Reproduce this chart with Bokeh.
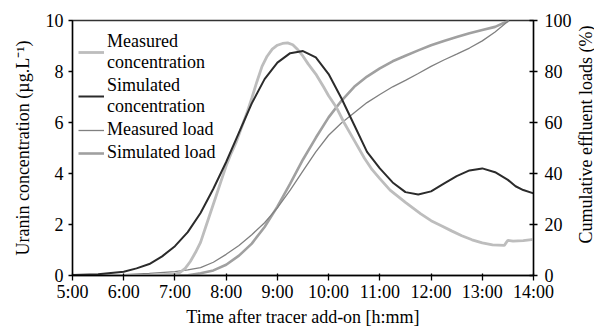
import math
from bokeh.plotting import figure
from bokeh.layouts import row
from bokeh.models import Range1d, LinearAxis, FixedTicker, Legend, LegendItem, Label
from bokeh.embed import file_html
from bokeh.resources import INLINE

# ---- data (hours after midnight; concentration in µg/L; load in %) ----
x_ticks = [5, 6, 7, 8, 9, 10, 11, 12, 13, 14]
x_tick_labels = ["5:00", "6:00", "7:00", "8:00", "9:00", "10:00", "11:00", "12:00", "13:00", "14:00"]
conc_ticks = [0, 2, 4, 6, 8, 10]
load_ticks = [0, 20, 40, 60, 80, 100]

meas_conc_t = [5.0, 6.0, 6.5, 7.0, 7.1, 7.2, 7.3, 7.4, 7.5, 7.6, 7.7, 7.8, 7.9, 8.0, 8.1, 8.2,
               8.3, 8.4, 8.5, 8.6, 8.7, 8.8, 8.9, 9.0, 9.1, 9.2, 9.3, 9.4, 9.5, 9.6, 9.75,
               9.9, 10.0, 10.15, 10.3, 10.5, 10.7, 10.85, 11.0, 11.2, 11.5, 11.8, 12.0, 12.2,
               12.4, 12.6, 12.8, 13.0, 13.2, 13.43, 13.47, 13.5, 13.6, 13.8, 14.0]
meas_conc_v = [0.0, 0.0, 0.01, 0.05, 0.12, 0.28, 0.55, 0.9, 1.3, 1.9, 2.5, 3.1, 3.7, 4.3, 4.8, 5.25,
               5.8, 6.35, 6.95, 7.6, 8.2, 8.6, 8.88, 9.03, 9.1, 9.12, 9.05, 8.85, 8.6, 8.3, 7.9,
               7.4, 7.05, 6.6, 6.0, 5.3, 4.6, 4.15, 3.8, 3.35, 2.87, 2.42, 2.15, 1.95,
               1.75, 1.56, 1.4, 1.28, 1.2, 1.18, 1.3, 1.38, 1.35, 1.37, 1.42]

sim_conc_t = [5.0, 5.5, 6.0, 6.25, 6.5, 6.75, 7.0, 7.25, 7.5, 7.75, 8.0, 8.25, 8.5, 8.75, 9.0,
              9.25, 9.5, 9.75, 10.0, 10.25, 10.5, 10.75, 11.0, 11.25, 11.5, 11.75, 12.0, 12.25,
              12.5, 12.75, 13.0, 13.25, 13.5, 13.65, 13.8, 14.0]
sim_conc_v = [0.02, 0.05, 0.15, 0.28, 0.45, 0.75, 1.15, 1.7, 2.45, 3.4, 4.45, 5.6, 6.75, 7.7, 8.35,
              8.72, 8.8, 8.55, 7.9, 6.95, 5.9, 4.85, 4.2, 3.65, 3.27, 3.18, 3.3, 3.6,
              3.9, 4.12, 4.2, 4.05, 3.75, 3.5, 3.35, 3.22]

meas_load_t = [5.0, 5.5, 6.0, 6.5, 7.0, 7.25, 7.5, 7.75, 8.0, 8.25, 8.5, 8.75, 9.0, 9.25, 9.5,
               9.75, 10.0, 10.25, 10.5, 10.75, 11.0, 11.25, 11.5, 11.75, 12.0, 12.25, 12.5,
               12.75, 13.0, 13.25, 13.52]
meas_load_v = [0.0, 0.15, 0.35, 0.8, 1.5, 2.2, 3.1, 5.2, 8.3, 11.8, 16.0, 20.7, 26.5, 33.5, 41.0,
               48.5, 55.0, 59.8, 63.8, 67.8, 71.0, 74.0, 76.5, 79.2, 82.0, 84.5, 86.8,
               89.2, 92.0, 95.5, 100.0]

sim_load_t = [5.0, 7.0, 7.25, 7.5, 7.75, 8.0, 8.25, 8.5, 8.75, 9.0, 9.25, 9.5, 9.75, 10.0,
              10.25, 10.5, 10.75, 11.0, 11.25, 11.5, 11.75, 12.0, 12.25, 12.5, 12.75, 13.0,
              13.25, 13.52]
sim_load_v = [0.0, 0.0, 0.1, 0.9, 2.0, 4.2, 7.8, 12.5, 19.0, 27.0, 36.0, 45.5, 54.0, 62.0,
              68.5, 74.0, 78.0, 81.2, 84.0, 86.2, 88.3, 90.3, 92.0, 93.5, 95.0, 96.3,
              97.5, 100.0]

right_axis_title = "Cumulative effluent loads (%)"

FONT = "Liberation Serif"
FS = "18px"

W, H = 574, 330
SIDE_W = 20

p = figure(width=W, height=H, x_range=Range1d(5, 14), y_range=Range1d(0, 10),
           output_backend="svg", toolbar_location=None,
           min_border_left=72, min_border_right=38, min_border_top=20, min_border_bottom=55)
p.extra_y_ranges = {"load": Range1d(0, 100)}
p.grid.visible = False
p.outline_line_color = "#333333"
p.outline_line_width = 1.5
p.background_fill_color = "white"
p.border_fill_color = "white"

r_sl = p.line(sim_load_t, sim_load_v, y_range_name="load", line_color="#a0a0a0", line_width=2.6)
r_ml = p.line(meas_load_t, meas_load_v, y_range_name="load", line_color="#808080", line_width=1.3)
r_mc = p.line(meas_conc_t, meas_conc_v, line_color="#bdbdbd", line_width=2.8)
r_sc = p.line(sim_conc_t, sim_conc_v, line_color="#2b2b2b", line_width=2.0)

def style(ax):
    ax.axis_line_color = "black"
    ax.axis_line_width = 1.3
    ax.major_tick_line_color = "black"
    ax.major_tick_line_width = 1.3
    ax.minor_tick_line_color = None
    ax.major_label_text_font = FONT
    ax.major_label_text_font_size = FS
    ax.major_label_text_color = "black"
    ax.axis_label_text_font = FONT
    ax.axis_label_text_font_size = FS
    ax.axis_label_text_font_style = "normal"
    ax.axis_label_text_color = "black"

xa = p.xaxis[0]
style(xa)
xa.ticker = FixedTicker(ticks=x_ticks)
xa.major_label_overrides = {t: l for t, l in zip(x_ticks, x_tick_labels)}
xa.major_tick_in = 2
xa.major_tick_out = 5
xa.major_label_standoff = 1
xa.axis_label = "Time after tracer add-on [h:mm]"
xa.axis_label_standoff = 2

ya = p.yaxis[0]
style(ya)
ya.ticker = FixedTicker(ticks=conc_ticks)
ya.major_tick_in = 0
ya.major_tick_out = 4
ya.major_label_standoff = 5
ya.axis_label = "Uranin concentration (µg.L⁻¹)"
ya.axis_label_standoff = 10

ra = LinearAxis(y_range_name="load")
style(ra)
ra.ticker = FixedTicker(ticks=load_ticks)
ra.major_tick_in = 4
ra.major_tick_out = 4
ra.major_label_standoff = 7
p.add_layout(ra, "right")

legend = Legend(items=[
    LegendItem(label="Measured\nconcentration", renderers=[r_mc]),
    LegendItem(label="Simulated\nconcentration", renderers=[r_sc]),
    LegendItem(label="Measured load", renderers=[r_ml]),
    LegendItem(label="Simulated load", renderers=[r_sl]),
], location=(0, 106))
legend.margin = 0
legend.padding = 6
legend.spacing = 2
legend.glyph_width = 26
legend.label_standoff = 3
legend.label_text_font = FONT
legend.label_text_font_size = FS
legend.label_text_color = "black"
legend.background_fill_alpha = 0
legend.border_line_alpha = 0
p.add_layout(legend)

# narrow strip to the right holding the right-hand axis title (reads bottom-to-top)
side = figure(width=SIDE_W, height=H, x_range=Range1d(0, SIDE_W), y_range=Range1d(0, H),
              output_backend="svg", toolbar_location=None, min_border=0)
side.axis.visible = False
side.grid.visible = False
side.outline_line_color = None
side.background_fill_color = "white"
side.border_fill_color = "white"
side.add_layout(Label(x=SIDE_W / 2 + 1, y=H - 147.5, text=right_axis_title,
                      angle=math.pi / 2, angle_units="rad",
                      text_align="center", text_baseline="middle", text_font=FONT,
                      text_font_size=FS, text_color="black"))

layout = row(p, side)
open("out.html", "w").write(file_html(layout, INLINE))
